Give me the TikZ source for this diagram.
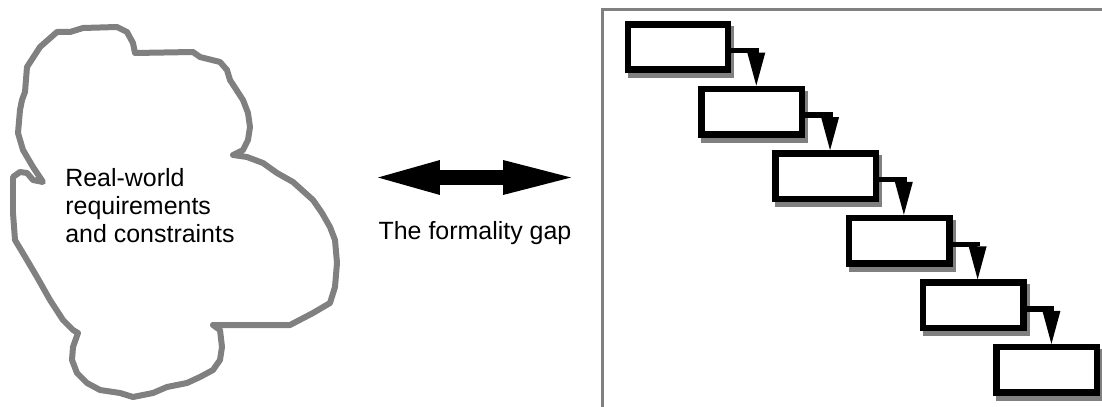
\documentclass[tikz,border=0pt]{standalone}
\usepackage{fontspec}
\setmainfont{Liberation Sans}
\usetikzlibrary{positioning, arrows.meta}

\begin{document}
\begin{tikzpicture}[x=0.02cm, y=0.02cm, node distance=1.292cm and 1.476cm, on grid,
  stage/.style={draw, rectangle, line width=0.13cm, fill=white, minimum width=2.01cm, minimum height=0.91cm,
    preaction={draw=gray, fill=gray, transform canvas={shift={(0.06cm,-0.1cm)}}}},
  flow/.style={line width=0.11cm, -{Triangle[length=0.66cm, width=0.36cm, line width=0pt]}},
  label/.style={inner sep=0pt, font=\fontsize{14.2pt}{15.9pt}\selectfont}]
\useasboundingbox (0,0) rectangle (1102,406);

\draw[gray, line width=0.12cm, line join=round]
  (25,314) -- (27,339) -- (40,359) -- (57,374) -- (70,374) -- (83,378) -- (117,379) -- (127,374)
  -- (133,363) -- (135,353) -- (193,354) -- (200,349) -- (220,344) -- (227,336) -- (230,326)
  -- (243,306) -- (248,293) -- (250,279) -- (248,266) -- (243,256) -- (233,251) -- (247,249)
  -- (263,243) -- (277,233) -- (293,224) -- (313,206) -- (322,193) -- (330,179) -- (335,166)
  -- (337,143) -- (335,119) -- (330,103) -- (313,93) -- (290,81) -- (213,81) -- (220,76)
  -- (222,59) -- (220,46) -- (213,36) -- (200,29) -- (187,23) -- (167,19) -- (153,13) -- (133,9)
  -- (120,13) -- (100,16) -- (87,23) -- (77,33) -- (72,46) -- (73,59) -- (78,73) -- (73,76)
  -- (63,86) -- (50,106) -- (37,129) -- (27,146) -- (15,166) -- (13,193) -- (13,229) -- (20,234)
  -- (27,233) -- (33,226) -- (43,224) -- (33,239) -- (23,256) -- (18,273) -- (20,296) -- (22,306)
  -- cycle;
\node[label, anchor=north west, align=left] (need) at (65,238) {Real-world\\requirements\\and constraints};

\coordinate (gapL) at (378,228.5);
\coordinate (gapR) at (571,228.5);
\draw[line width=0.3cm, {Triangle[length=1.24cm, width=0.7cm, line width=0pt]}-{Triangle[length=1.36cm, width=0.7cm, line width=0pt]}] (gapL) -- (gapR);
\node[label, anchor=base] (gap) at (475,167) {The formality gap};

\draw[gray, line width=0.06cm] (1110,396.5) -- (602,396.5) -- (602,-10);

\node[stage] (stage1) at (678,359) {};
\node[stage, below right=of stage1] (stage2) {};
\node[stage, below right=of stage2] (stage3) {};
\node[stage, below right=of stage3] (stage4) {};
\node[stage, below right=of stage4] (stage5) {};
\node[stage, below right=of stage5] (stage6) {};

\draw[flow] ([yshift=-0.07cm]stage1.east) -| ([xshift=0.09cm]stage2.north);
\draw[flow] ([yshift=-0.07cm]stage2.east) -| ([xshift=0.09cm]stage3.north);
\draw[flow] ([yshift=-0.07cm]stage3.east) -| ([xshift=0.09cm]stage4.north);
\draw[flow] ([yshift=-0.07cm]stage4.east) -| ([xshift=0.09cm]stage5.north);
\draw[flow] ([yshift=-0.07cm]stage5.east) -| ([xshift=0.09cm]stage6.north);
\end{tikzpicture}
\end{document}
